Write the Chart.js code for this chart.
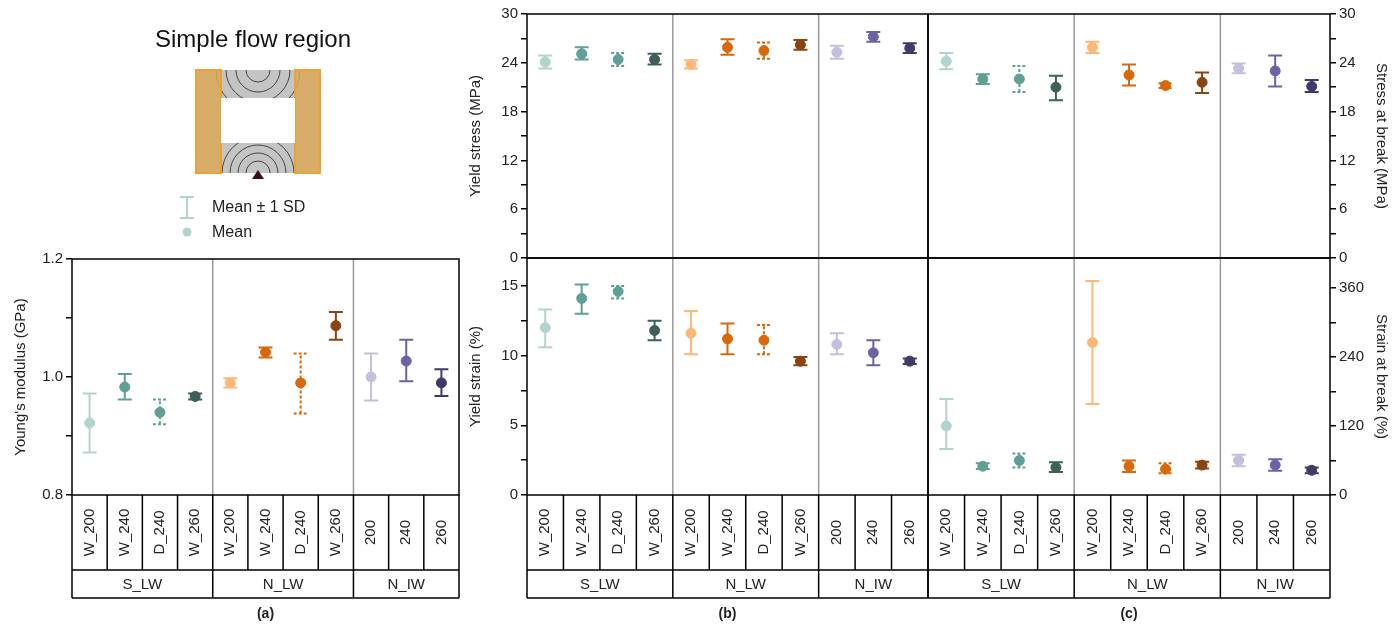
<!DOCTYPE html>
<html>
<head>
<meta charset="utf-8">
<script src="https://cdn.jsdelivr.net/npm/chart.js@4/dist/chart.umd.min.js"></script>
<style>
  body { margin: 0; background: #fff; width: 1395px; height: 631px; position: relative; overflow: hidden; }
  canvas { position: absolute; }
</style>
</head>
<body>
<canvas id="sketch" width="470" height="250" style="left:0;top:0"></canvas>
<script>
// categories and groups
const cats = ['W_200', 'W_240', 'D_240', 'W_260', 'W_200', 'W_240', 'D_240', 'W_260', '200', '240', '260'];
const groups = ['S_LW', 'N_LW', 'N_IW'];
const groupSizes = [4, 4, 3];
const colors = ['#b3d3ce', '#5f9f96', '#5f9f96', '#3e5f5a', '#fdb878', '#d8680a', '#d8680a', '#8a4410', '#c4bfdc', '#6b63a3', '#3f3a67'];
const dashed = [false, false, true, false, false, false, true, false, false, false, false];

// (a) Young's modulus (GPa)
const modMean = [0.922, 0.983, 0.940, 0.967, 0.990, 1.042, 0.990, 1.087, 1.000, 1.027, 0.990];
const modLow  = [0.872, 0.962, 0.920, 0.962, 0.982, 1.033, 0.938, 1.063, 0.960, 0.993, 0.968];
const modHigh = [0.972, 1.005, 0.962, 0.972, 0.998, 1.050, 1.040, 1.110, 1.040, 1.063, 1.013];
const modTicks = [0.8, 0.9, 1.0, 1.1, 1.2];
const modMajor = [0.8, 1.0, 1.2];

// (b) yield stress (MPa)
const ysMean = [24.1, 25.1, 24.4, 24.4, 23.8, 25.9, 25.5, 26.2, 25.3, 27.2, 25.8];
const ysLow  = [23.3, 24.4, 23.6, 23.8, 23.3, 25.0, 24.5, 25.6, 24.5, 26.6, 25.2];
const ysHigh = [24.9, 25.9, 25.2, 25.1, 24.3, 26.9, 26.5, 26.8, 26.1, 27.8, 26.4];
const mpaTicks = [0, 3, 6, 9, 12, 15, 18, 21, 24, 27, 30];
const mpaMajor = [0, 6, 12, 18, 24, 30];

// (b) yield strain (%)
const yeMean = [12.0, 14.1, 14.6, 11.8, 11.6, 11.2, 11.1, 9.6, 10.8, 10.2, 9.6];
const yeLow  = [10.6, 13.0, 14.1, 11.1, 10.1, 10.1, 10.1, 9.3, 10.1, 9.3, 9.4];
const yeHigh = [13.3, 15.1, 15.0, 12.5, 13.2, 12.3, 12.2, 9.9, 11.6, 11.1, 9.8];
const yeTicks = [0, 2.5, 5, 7.5, 10, 12.5, 15];
const yeMajor = [0, 5, 10, 15];

// (c) stress at break (MPa)
const sbMean = [24.2, 22.0, 22.0, 21.0, 25.9, 22.5, 21.2, 21.6, 23.3, 23.0, 21.1];
const sbLow  = [23.2, 21.4, 20.4, 19.4, 25.2, 21.2, 20.9, 20.3, 22.7, 21.1, 20.4];
const sbHigh = [25.2, 22.6, 23.6, 22.4, 26.6, 23.8, 21.5, 22.8, 23.9, 24.9, 21.9];

// (c) strain at break (%)
const ebMean = [120, 50, 60, 48, 265, 50, 45, 52, 60, 52, 43];
const ebLow  = [80, 45, 48, 40, 158, 40, 38, 46, 50, 42, 38];
const ebHigh = [167, 55, 72, 57, 372, 60, 55, 58, 70, 62, 48];
const ebTicks = [0, 60, 120, 180, 240, 300, 360];
const ebMajor = [0, 120, 240, 360];

const FONT = '"Liberation Sans", Arial, sans-serif';

// schematic, title and legend of panel (a)
(function () {
  const c = document.getElementById('sketch').getContext('2d');
  c.fillStyle = '#111';
  c.font = '24px ' + FONT;
  c.textAlign = 'center';
  c.fillText('Simple flow region', 253, 47);
  c.fillStyle = '#c4c4c4';
  c.fillRect(196, 70, 124, 103);
  c.strokeStyle = '#444';
  c.lineWidth = 1;
  for (let k = 0; k < 4; k++) {
    c.beginPath(); c.arc(258, 173, 12 + k * 8, Math.PI, 2 * Math.PI); c.stroke();
    c.beginPath(); c.arc(258, 70, 12 + k * 10, 0, Math.PI); c.stroke();
  }
  c.fillStyle = '#dca859';
  c.globalAlpha = 0.85;
  c.fillRect(196, 70, 25, 103);
  c.fillRect(295, 70, 25, 103);
  c.globalAlpha = 1;
  c.strokeStyle = '#f0a030';
  c.lineWidth = 2;
  c.strokeRect(196, 70, 25, 103);
  c.strokeRect(295, 70, 25, 103);
  c.fillStyle = '#fff';
  c.fillRect(221, 98, 74, 45);
  c.fillStyle = '#3a0f12';
  c.beginPath(); c.moveTo(252, 179); c.lineTo(264, 179); c.lineTo(258, 170); c.fill();
  // legend
  c.strokeStyle = '#b3d3ce';
  c.lineWidth = 2;
  c.beginPath();
  c.moveTo(187, 197); c.lineTo(187, 218);
  c.moveTo(180, 197); c.lineTo(194, 197);
  c.moveTo(180, 218); c.lineTo(194, 218);
  c.stroke();
  c.fillStyle = '#b3d3ce';
  c.beginPath(); c.arc(187, 232, 4.5, 0, 2 * Math.PI); c.fill();
  c.fillStyle = '#222';
  c.font = '16px ' + FONT;
  c.textAlign = 'left';
  c.textBaseline = 'middle';
  c.fillText('Mean \u00b1 1 SD', 212, 208);
  c.fillText('Mean', 212, 233);
})();

const errorBars = {
  id: 'errorBars',
  beforeDatasetsDraw(chart, args, o) {
    const c = chart.ctx, x = chart.scales.x, y = chart.scales.y;
    c.save();
    c.lineWidth = 2;
    o.low.forEach((lo, i) => {
      const px = x.getPixelForValue(i), y1 = y.getPixelForValue(lo), y2 = y.getPixelForValue(o.high[i]);
      c.strokeStyle = colors[i];
      c.setLineDash(dashed[i] ? [3, 2] : []);
      c.beginPath();
      c.moveTo(px, y1); c.lineTo(px, y2);
      c.moveTo(px - 7, y1); c.lineTo(px + 7, y1);
      c.moveTo(px - 7, y2); c.lineTo(px + 7, y2);
      c.stroke();
    });
    c.restore();
  }
};

const frame = {
  id: 'frame',
  afterDraw(chart, args, o) {
    const c = chart.ctx, a = chart.chartArea;
    const w = (a.right - a.left) / cats.length;
    c.save();
    let k = 0;
    const bounds = [];
    groupSizes.forEach(n => { k += n; bounds.push(k); });
    c.strokeStyle = '#999';
    c.lineWidth = 1.5;
    bounds.slice(0, -1).forEach(b => {
      c.beginPath(); c.moveTo(a.left + b * w, a.top); c.lineTo(a.left + b * w, a.bottom); c.stroke();
    });
    c.strokeStyle = '#000';
    c.strokeRect(a.left, a.top, a.right - a.left, a.bottom - a.top);
    if (o.table) {
      const r1 = a.bottom + 75, r2 = r1 + 28;
      c.beginPath();
      c.moveTo(a.left, a.bottom); c.lineTo(a.left, r2);
      c.moveTo(a.right, a.bottom); c.lineTo(a.right, r2);
      c.moveTo(a.left, r1); c.lineTo(a.right, r1);
      c.moveTo(a.left, r2); c.lineTo(a.right, r2);
      for (let i = 1; i < cats.length; i++) {
        c.moveTo(a.left + i * w, a.bottom);
        c.lineTo(a.left + i * w, bounds.includes(i) ? r2 : r1);
      }
      c.stroke();
      c.fillStyle = '#222';
      c.font = '15px ' + FONT;
      c.textAlign = 'center';
      c.textBaseline = 'middle';
      cats.forEach((t, i) => {
        c.save();
        c.translate(a.left + (i + 0.5) * w, (a.bottom + r1) / 2);
        c.rotate(-Math.PI / 2);
        c.fillText(t, 0, 0);
        c.restore();
      });
      let s = 0;
      groups.forEach((g, gi) => {
        c.fillText(g, a.left + (s + groupSizes[gi] / 2) * w, (r1 + r2) / 2 + 1);
        s += groupSizes[gi];
      });
      c.font = 'bold 14px ' + FONT;
      c.fillText(o.label, (a.left + a.right) / 2, r2 + 16);
    }
    c.restore();
  }
};

function makePanel(cfg) {
  const [L, T, R, B] = cfg.box, [l, t, r, b] = cfg.plot;
  const cv = document.createElement('canvas');
  cv.width = R - L; cv.height = B - T;
  cv.style.left = L + 'px'; cv.style.top = T + 'px';
  document.body.appendChild(cv);
  const left = cfg.side === 'left';
  const near = (arr, v) => arr.some(m => Math.abs(m - v) < 1e-6);
  return new Chart(cv.getContext('2d'), {
    type: 'line',
    data: {
      labels: cats,
      datasets: [{
        data: cfg.mean, showLine: false, pointRadius: 5, pointHoverRadius: 5,
        pointBackgroundColor: colors, pointBorderColor: colors
      }]
    },
    plugins: [errorBars, frame],
    options: {
      responsive: false, animation: false,
      layout: { padding: {
        left: left ? l - L - cfg.axisW : l - L,
        right: left ? R - r : R - r - cfg.axisW,
        top: t - T, bottom: B - b
      } },
      plugins: {
        legend: { display: false }, tooltip: { enabled: false },
        errorBars: { low: cfg.low, high: cfg.high },
        frame: { table: cfg.table, label: cfg.label }
      },
      scales: {
        x: { type: 'category', offset: true, display: false },
        y: {
          position: cfg.side, min: cfg.min, max: cfg.max,
          afterFit: s => { s.width = cfg.axisW; s.paddingTop = 0; s.paddingBottom = 0; },
          afterBuildTicks: s => { s.ticks = cfg.ticks.map(v => ({ value: v })); },
          border: { display: false },
          grid: { drawOnChartArea: false, drawTicks: true, tickLength: 6, color: '#000', lineWidth: 1.5 },
          ticks: {
            padding: 3, color: '#222', font: { size: 15, family: FONT },
            callback: v => near(cfg.major, v) ? (cfg.digits ? v.toFixed(cfg.digits) : String(v)) : ''
          },
          title: { display: true, text: cfg.title, color: '#222', font: { size: 15, family: FONT }, padding: 0 }
        }
      }
    }
  });
}

makePanel({ box: [0, 240, 470, 631], plot: [72, 259, 459, 495], side: 'left', axisW: 60,
  title: "Young's modulus (GPa)", mean: modMean, low: modLow, high: modHigh,
  min: 0.8, max: 1.2, ticks: modTicks, major: modMajor, digits: 1, table: true, label: '(a)' });
makePanel({ box: [467, 0, 950, 280], plot: [527, 14, 928, 258], side: 'left', axisW: 60,
  title: 'Yield stress (MPa)', mean: ysMean, low: ysLow, high: ysHigh,
  min: 0, max: 30, ticks: mpaTicks, major: mpaMajor, table: false });
makePanel({ box: [467, 236, 950, 631], plot: [527, 258, 928, 495], side: 'left', axisW: 60,
  title: 'Yield strain (%)', mean: yeMean, low: yeLow, high: yeHigh,
  min: 0, max: 17, ticks: yeTicks, major: yeMajor, table: true, label: '(b)' });
makePanel({ box: [906, 0, 1395, 280], plot: [928, 14, 1330, 258], side: 'right', axisW: 60,
  title: 'Stress at break (MPa)', mean: sbMean, low: sbLow, high: sbHigh,
  min: 0, max: 30, ticks: mpaTicks, major: mpaMajor, table: false });
makePanel({ box: [906, 236, 1395, 631], plot: [928, 258, 1330, 495], side: 'right', axisW: 60,
  title: 'Strain at break (%)', mean: ebMean, low: ebLow, high: ebHigh,
  min: 0, max: 412, ticks: ebTicks, major: ebMajor, table: true, label: '(c)' });
</script>
</body>
</html>
